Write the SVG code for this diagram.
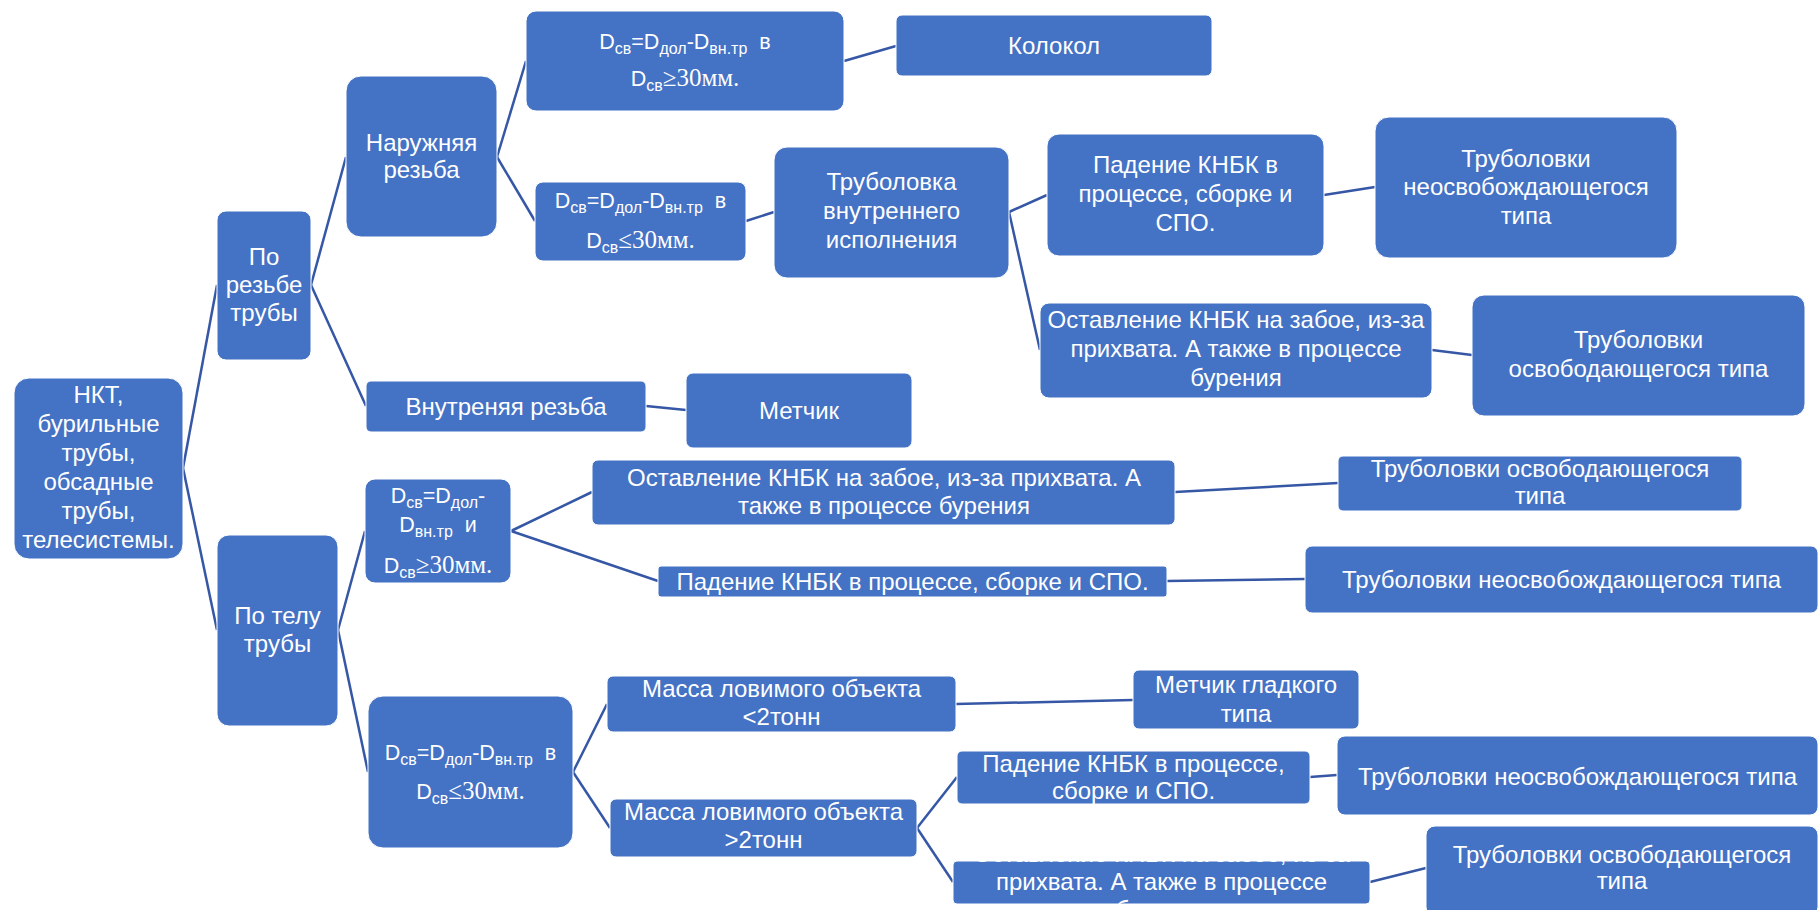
<svg xmlns="http://www.w3.org/2000/svg" width="1819" height="910" viewBox="0 0 1819 910">
<style>
.bg{fill:#ffffff}
.n rect{fill:#4472C4;stroke:#ffffff;stroke-width:1}
.n text{fill:#ffffff;font-family:"Liberation Sans",Arial,sans-serif;font-size:24px;text-anchor:middle}
.n text.f{font-size:21.5px}
.s{font-size:16px}
.t{font-family:"Liberation Serif","Times New Roman",serif;font-size:25px}
.c line{stroke:#3557A5;stroke-width:2.5;fill:none}
</style>
<rect class="bg" x="0" y="0" width="1819" height="910"/>
<g id="connectors" class="c">
<line x1="183" y1="468" x2="217" y2="285"/>
<line x1="183" y1="468" x2="217" y2="630"/>
<line x1="311" y1="285" x2="346" y2="157"/>
<line x1="311" y1="285" x2="366" y2="406"/>
<line x1="497" y1="157" x2="526" y2="61"/>
<line x1="497" y1="157" x2="535" y2="221"/>
<line x1="844" y1="61" x2="896" y2="46"/>
<line x1="746" y1="221" x2="774" y2="212"/>
<line x1="1009" y1="212" x2="1047" y2="195"/>
<line x1="1009" y1="212" x2="1040" y2="350"/>
<line x1="1324" y1="195" x2="1375" y2="187"/>
<line x1="1432" y1="350" x2="1472" y2="355"/>
<line x1="646" y1="406" x2="686" y2="410"/>
<line x1="338" y1="630" x2="365" y2="531"/>
<line x1="338" y1="630" x2="368" y2="772"/>
<line x1="511" y1="531" x2="592" y2="492"/>
<line x1="511" y1="531" x2="658" y2="581"/>
<line x1="1175" y1="492" x2="1338" y2="483"/>
<line x1="1167" y1="581" x2="1305" y2="579"/>
<line x1="573" y1="772" x2="607" y2="704"/>
<line x1="573" y1="772" x2="610" y2="828"/>
<line x1="956" y1="704" x2="1133" y2="700"/>
<line x1="917" y1="828" x2="957" y2="777"/>
<line x1="917" y1="828" x2="953" y2="882"/>
<line x1="1310" y1="777" x2="1337" y2="775"/>
<line x1="1370" y1="882" x2="1426" y2="868"/>
</g>
<g id="n1" class="n"><rect x="14" y="378" width="169" height="181" rx="15"/>
<text x="98.5" y="403">НКТ,</text><text x="98.5" y="432">бурильные</text><text x="98.5" y="461">трубы,</text><text x="98.5" y="490">обсадные</text><text x="98.5" y="519">трубы,</text><text x="98.5" y="548">телесистемы.</text></g>
<g id="n2" class="n"><rect x="217" y="211" width="94" height="149" rx="9"/>
<text x="264" y="265">По</text><text x="264" y="293">резьбе</text><text x="264" y="321">трубы</text></g>
<g id="n3" class="n"><rect x="346" y="76" width="151" height="161" rx="15"/>
<text x="421.5" y="151">Наружняя</text><text x="421.5" y="178">резьба</text></g>
<g id="n4" class="n"><rect x="526" y="11" width="318" height="100" rx="10"/>
<text class="f" x="685" y="49">D<tspan class="s" dy="5">св</tspan><tspan dy="-5">=D</tspan><tspan class="s" dy="5">дол</tspan><tspan dy="-5">-D</tspan><tspan class="s" dy="5">вн.тр</tspan><tspan dy="-5">&#160;&#160;в</tspan></text>
<text class="f" x="685" y="86">D<tspan class="s" dy="5">св</tspan><tspan class="t" dy="-5">≥30мм.</tspan></text></g>
<g id="n5" class="n"><rect x="896" y="15" width="316" height="61" rx="6"/>
<text x="1054" y="54">Колокол</text></g>
<g id="n6" class="n"><rect x="535" y="182" width="211" height="79" rx="8"/>
<text class="f" x="640.5" y="208">D<tspan class="s" dy="5">св</tspan><tspan dy="-5">=D</tspan><tspan class="s" dy="5">дол</tspan><tspan dy="-5">-D</tspan><tspan class="s" dy="5">вн.тр</tspan><tspan dy="-5">&#160;&#160;в</tspan></text>
<text class="f" x="640.5" y="248">D<tspan class="s" dy="5">св</tspan><tspan class="t" dy="-5">≤30мм.</tspan></text></g>
<g id="n7" class="n"><rect x="774" y="147" width="235" height="131" rx="13"/>
<text x="891.5" y="190">Труболовка</text><text x="891.5" y="219">внутреннего</text><text x="891.5" y="248">исполнения</text></g>
<g id="n8" class="n"><rect x="1047" y="134" width="277" height="122" rx="12"/>
<text x="1185.5" y="173">Падение КНБК в</text><text x="1185.5" y="202">процессе, сборке и</text><text x="1185.5" y="231">СПО.</text></g>
<g id="n9" class="n"><rect x="1375" y="117" width="302" height="141" rx="14"/>
<text x="1526" y="167">Труболовки</text><text x="1526" y="195">неосвобождающегося</text><text x="1526" y="224">типа</text></g>
<g id="n10" class="n"><rect x="1040" y="303" width="392" height="95" rx="9"/>
<text x="1236" y="328">Оставление КНБК на забое, из-за</text><text x="1236" y="357">прихвата. А также в процессе</text><text x="1236" y="386">бурения</text></g>
<g id="n11" class="n"><rect x="1472" y="295" width="333" height="121" rx="12"/>
<text x="1638.5" y="348">Труболовки</text><text x="1638.5" y="377">освободающегося типа</text></g>
<g id="n12" class="n"><rect x="366" y="381" width="280" height="51" rx="5"/>
<text x="506" y="415">Внутреняя резьба</text></g>
<g id="n13" class="n"><rect x="686" y="373" width="226" height="75" rx="7"/>
<text x="799" y="419">Метчик</text></g>
<g id="n14" class="n"><rect x="217" y="535" width="121" height="191" rx="12"/>
<text x="277.5" y="624">По телу</text><text x="277.5" y="652">трубы</text></g>
<g id="n15" class="n"><rect x="365" y="479" width="146" height="104" rx="10"/>
<text class="f" x="438" y="503">D<tspan class="s" dy="5">св</tspan><tspan dy="-5">=D</tspan><tspan class="s" dy="5">дол</tspan><tspan dy="-5">-</tspan></text>
<text class="f" x="438" y="532">D<tspan class="s" dy="5">вн.тр</tspan><tspan dy="-5">&#160;&#160;и</tspan></text>
<text class="f" x="438" y="573">D<tspan class="s" dy="5">св</tspan><tspan class="t" dy="-5">≥30мм.</tspan></text></g>
<g id="n16" class="n"><rect x="592" y="460" width="583" height="65" rx="6"/>
<text x="884" y="486">Оставление КНБК на забое, из-за прихвата. А</text><text x="884" y="514">также в процессе бурения</text></g>
<g id="n17" class="n"><rect x="658" y="566" width="509" height="31" rx="3"/>
<text x="912.5" y="590">Падение КНБК в процессе, сборке и СПО.</text></g>
<g id="n18" class="n"><rect x="1338" y="456" width="404" height="55" rx="5"/>
<text x="1540" y="477">Труболовки освободающегося</text><text x="1540" y="504">типа</text></g>
<g id="n19" class="n"><rect x="1305" y="546" width="513" height="67" rx="7"/>
<text x="1561.5" y="588">Труболовки неосвобождающегося типа</text></g>
<g id="n20" class="n"><rect x="368" y="696" width="205" height="152" rx="15"/>
<text class="f" x="470.5" y="760">D<tspan class="s" dy="5">св</tspan><tspan dy="-5">=D</tspan><tspan class="s" dy="5">дол</tspan><tspan dy="-5">-D</tspan><tspan class="s" dy="5">вн.тр</tspan><tspan dy="-5">&#160;&#160;в</tspan></text>
<text class="f" x="470.5" y="799">D<tspan class="s" dy="5">св</tspan><tspan class="t" dy="-5">≤30мм.</tspan></text></g>
<g id="n21" class="n"><rect x="607" y="676" width="349" height="56" rx="6"/>
<text x="781.5" y="697">Масса ловимого объекта</text><text x="781.5" y="725">&lt;2тонн</text></g>
<g id="n22" class="n"><rect x="610" y="799" width="307" height="58" rx="6"/>
<text x="763.5" y="820">Масса ловимого объекта</text><text x="763.5" y="848">&gt;2тонн</text></g>
<g id="n23" class="n"><rect x="1133" y="670" width="226" height="59" rx="6"/>
<text x="1246" y="693">Метчик гладкого</text><text x="1246" y="722">типа</text></g>
<g id="n24" class="n"><rect x="957" y="751" width="353" height="53" rx="5"/>
<text x="1133.5" y="772">Падение КНБК в процессе,</text><text x="1133.5" y="799">сборке и СПО.</text></g>
<g id="n25" class="n"><rect x="1337" y="736" width="481" height="79" rx="8"/>
<text x="1577.5" y="785">Труболовки неосвобождающегося типа</text></g>
<g id="n26" class="n"><rect x="953" y="861" width="417" height="43" rx="4"/>
<text x="1161.5" y="862">Оставление КНБК на забое, из-за</text><text x="1161.5" y="890">прихвата. А также в процессе</text><text x="1161.5" y="918">бурения</text></g>
<g id="n27" class="n"><rect x="1426" y="826" width="392" height="90" rx="9"/>
<text x="1622" y="863">Труболовки освободающегося</text><text x="1622" y="889">типа</text></g>
</svg>
